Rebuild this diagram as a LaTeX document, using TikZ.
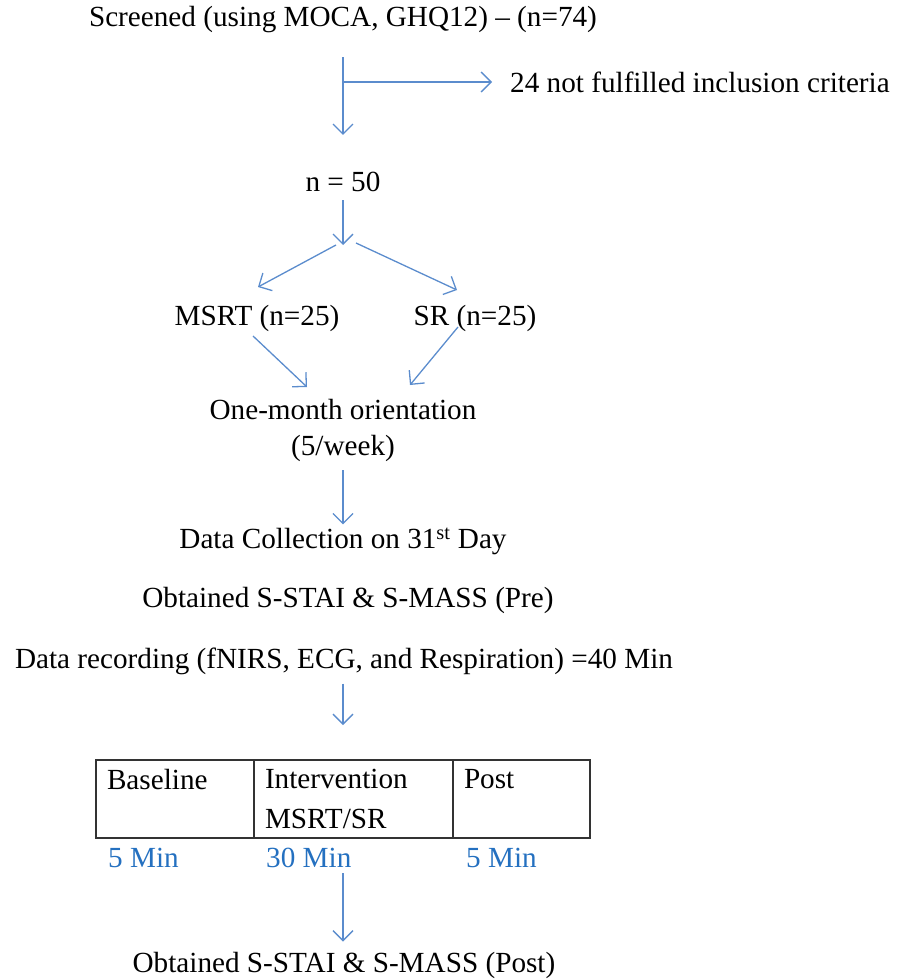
\documentclass[tikz,border=0pt]{standalone}
\usepackage{fontspec}
\setmainfont{Liberation Serif}
\usepackage{tikz}
\usetikzlibrary{
    positioning,
    arrows.meta
}
\definecolor{flowBlue}{RGB}{91, 140, 205}
\definecolor{timeBlue}{RGB}{36, 112, 192}
\tikzset{
    % 本文テキスト
    label/.style={
        inner sep=0pt,
        font=\fontsize{29.2}{36}\selectfont,
        align=center
    },
    % 表のセル
    cell/.style={
        draw=black!80,
        line width=1.2pt,
        outer sep=0pt,
        minimum height=78,
        inner xsep=11pt,
        inner ysep=5pt,
        align=left,
        anchor=north west,
        font=\fontsize{29.2}{40}\selectfont
    },
    % 時間の表示
    minutes/.style={
        inner sep=0pt,
        anchor=west,
        text=timeBlue,
        font=\fontsize{29.2}{36}\selectfont
    },
    % 矢印
    flow/.style={
        -{Straight Barb[length=10pt, width=20pt]},
        color=flowBlue,
        line width=1.3pt
    }
}
\begin{document}
\begin{tikzpicture}[x=1pt, y=-1pt]
    \useasboundingbox (0,0) rectangle (901,980);

    % スクリーニング
    \node[label] (screen) at (343,20) {Screened (using MOCA, GHQ12) -- (n=74)};
    \node[label, anchor=west] (excl) at (510,82) {24 not fulfilled inclusion criteria};
    \node[label] (n50) at (343,182) {n = 50};

    \draw[flow, shorten <=24pt, shorten >=37pt] (screen) -- (n50);
    \coordinate (branch) at (343,82);
    \draw[flow, shorten >=18pt] (branch) -- (excl.west);

    % 群分け
    \node[label] (msrt) at (257,318) {MSRT (n=25)};
    \node[label] (sr) at (475,318) {SR (n=25)};
    \coordinate (split) at (343,245);
    \coordinate (msrtIn) at (258,287);
    \coordinate (srIn) at (457,290);
    \draw[flow, shorten <=8pt] (n50) -- (split);
    \draw[flow] ([xshift=-7]split) -- (msrtIn);
    \draw[flow] ([xshift=13,yshift=2]split) -- (srIn);

    % オリエンテーション
    \node[label] (orient) at (343,430) {One-month orientation\\(5/week)};
    \coordinate (msrtOut) at (253,336);
    \coordinate (srOut) at (458,327);
    \coordinate (orientL) at (307,387);
    \coordinate (orientR) at (410,385);
    \draw[flow] (msrtOut) -- (orientL);
    \draw[flow] (srOut) -- (orientR);

    % データ収集
    \node[label] (collect) at (343,541) {Data Collection on 31\textsuperscript{st} Day};
    \node[label] (pre) at (348,600) {Obtained S-STAI \& S-MASS (Pre)};
    \node[label] (record) at (344,661) {Data recording (fNIRS, ECG, and Respiration) =40 Min};
    \draw[flow, shorten <=9pt, shorten >=3pt] (orient) -- (orient |- collect.north);

    % 表
    \node[cell, minimum width=158, text width=136] (base) at (96,760) {Baseline\\\mbox{}};
    \node[cell, minimum width=199, text width=177] (inter) at (base.north east) {Intervention\\MSRT/SR};
    \node[cell, minimum width=137, text width=115] (post) at (inter.north east) {Post\\\mbox{}};
    \draw[flow, shorten <=9pt, shorten >=35pt] ([xshift=-1]record.south) -- ([xshift=-1]record.south |- inter.north);

    \node[minutes] (tbase) at (108,858) {5 Min};
    \node[minutes] (tinter) at (266,858) {30 Min};
    \node[minutes] (tpost) at (466,858) {5 Min};

    % 終了後
    \node[label] (postq) at (344,965) {Obtained S-STAI \& S-MASS (Post)};
    \draw[flow, shorten <=35pt, shorten >=10pt] ([xshift=-1]inter.south -| postq) -- ([xshift=-1]postq.north);

\end{tikzpicture}
\end{document}
